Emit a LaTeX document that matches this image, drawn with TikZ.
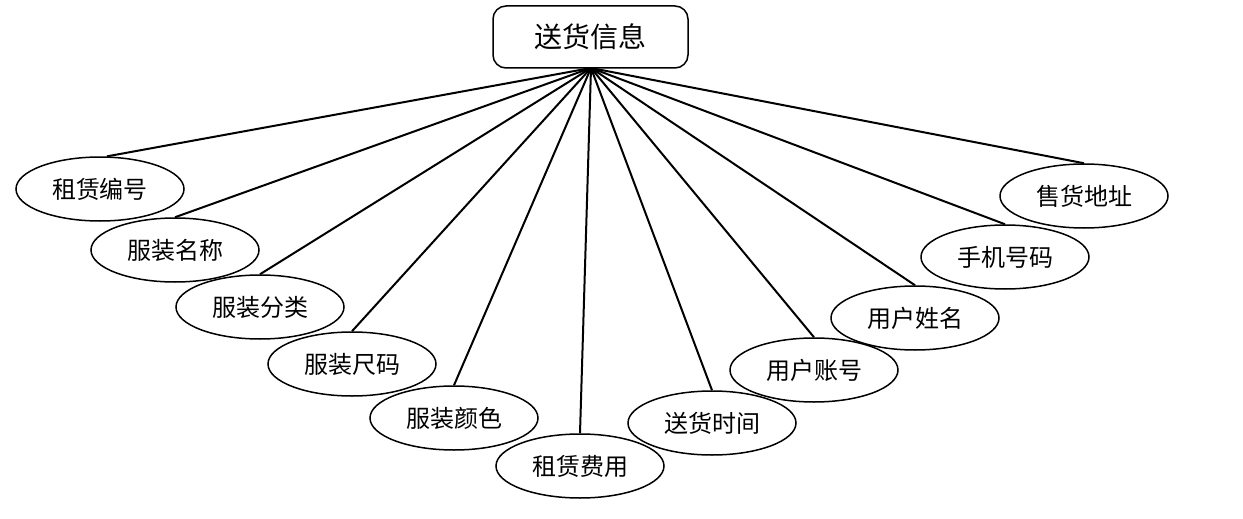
\documentclass[tikz,border=0pt]{standalone}
\usepackage{fontspec}
\setmainfont{Noto Sans CJK SC}
\usetikzlibrary{shapes.geometric}
\begin{document}
\begin{tikzpicture}[x=1pt,y=-1pt,
  attr/.style={ellipse,draw,line width=1.5pt,minimum width=168pt,minimum height=64pt,inner sep=0pt,font=\fontsize{24}{26}\selectfont},
  ent/.style={rectangle,rounded corners=13pt,draw,line width=1.5pt,minimum width=195pt,minimum height=62pt,inner sep=0pt,font=\fontsize{28}{30}\selectfont},
  conn/.style={line width=2pt}]
\useasboundingbox (0,0) rectangle (1243,519);
\node[ent] (e) at (590.5,37) {送货信息};
\coordinate (h) at (591,68);
\node[attr] (a1) at (100,189) {租赁编号};
\node[attr] (a2) at (175,250) {服装名称};
\node[attr] (a3) at (260,307) {服装分类};
\node[attr] (a4) at (352,364) {服装尺码};
\node[attr] (a5) at (454,418) {服装颜色};
\node[attr] (a6) at (580,466) {租赁费用};
\node[attr] (a7) at (712,423) {送货时间};
\node[attr] (a8) at (814,370) {用户账号};
\node[attr] (a9) at (915,318) {用户姓名};
\node[attr] (a10) at (1005,257) {手机号码};
\node[attr] (a11) at (1084,196) {售货地址};
\draw[conn] (h) -- (a1.78);
\foreach \i in {2,...,11} {\draw[conn] (h) -- (a\i.north);}
\end{tikzpicture}
\end{document}
